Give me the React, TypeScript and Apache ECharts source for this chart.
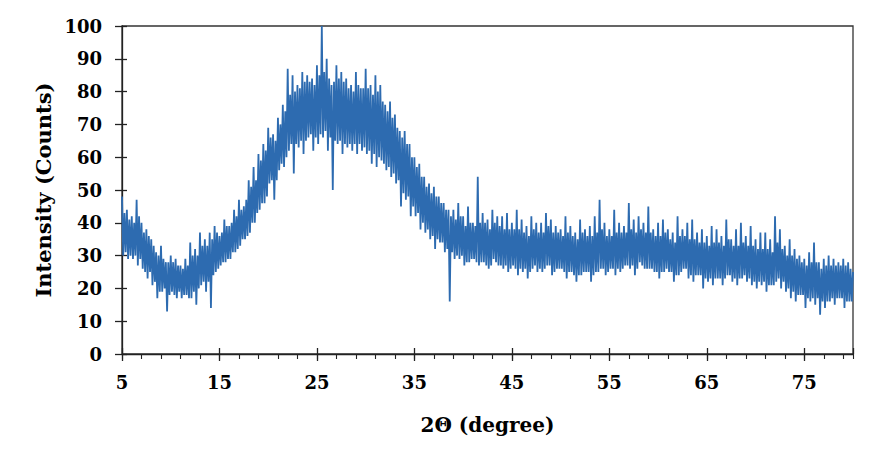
import React, { useEffect, useRef } from "react";
import * as echarts from "echarts";

const startAngle = 5;
const stepAngle = 0.125;
const intensity: number[] = [
  48, 30, 43, 31, 44, 29, 41, 30,
  42, 29, 40, 30, 47, 27, 42, 29,
  40, 26, 37, 25, 38, 23, 36, 25,
  35, 21, 33, 22, 31, 17, 30, 19,
  33, 19, 29, 20, 28, 13, 28, 18,
  30, 19, 28, 18, 29, 17, 27, 19,
  27, 17, 26, 18, 29, 18, 27, 17,
  34, 17, 30, 19, 32, 15, 30, 20,
  37, 21, 33, 22, 35, 19, 33, 22,
  37, 14, 35, 24, 39, 25, 37, 26,
  36, 27, 37, 28, 41, 28, 39, 29,
  39, 29, 40, 31, 44, 31, 42, 32,
  47, 33, 44, 35, 45, 35, 47, 36,
  53, 37, 51, 40, 57, 40, 53, 43,
  61, 44, 59, 46, 64, 46, 62, 48,
  69, 52, 66, 53, 67, 47, 65, 53,
  72, 56, 70, 58, 76, 57, 74, 60,
  87, 62, 79, 64, 85, 55, 80, 64,
  82, 63, 81, 65, 86, 61, 83, 65,
  85, 66, 83, 67, 84, 62, 82, 66,
  88, 64, 85, 67, 100, 66, 86, 68,
  90, 62, 84, 66, 82, 50, 83, 65,
  88, 64, 84, 65, 86, 61, 83, 64,
  84, 63, 81, 64, 82, 62, 80, 64,
  86, 61, 82, 64, 81, 62, 81, 63,
  87, 61, 81, 62, 82, 58, 79, 61,
  85, 57, 80, 60, 82, 59, 77, 58,
  76, 56, 74, 57, 77, 54, 72, 55,
  73, 52, 69, 53, 68, 45, 66, 49,
  68, 47, 64, 48, 64, 42, 60, 45,
  60, 42, 57, 43, 58, 38, 54, 40,
  54, 37, 51, 38, 52, 35, 49, 36,
  51, 32, 48, 35, 48, 34, 46, 34,
  46, 31, 44, 32, 44, 16, 42, 31,
  44, 29, 41, 30, 46, 29, 42, 30,
  42, 27, 39, 28, 45, 28, 40, 29,
  40, 29, 39, 28, 54, 27, 40, 28,
  43, 28, 40, 27, 41, 26, 38, 27,
  44, 29, 40, 28, 42, 27, 39, 27,
  42, 26, 38, 27, 43, 25, 38, 26,
  40, 27, 38, 26, 44, 24, 38, 26,
  41, 25, 37, 26, 39, 23, 36, 25,
  42, 26, 38, 27, 40, 25, 37, 26,
  40, 25, 37, 26, 43, 27, 39, 27,
  41, 24, 37, 25, 39, 26, 37, 26,
  38, 26, 36, 25, 42, 23, 37, 25,
  39, 25, 36, 24, 37, 22, 35, 24,
  41, 24, 37, 25, 38, 25, 36, 25,
  39, 22, 36, 24, 42, 25, 37, 25,
  47, 26, 38, 26, 40, 24, 36, 25,
  38, 26, 36, 26, 44, 24, 37, 26,
  40, 25, 37, 26, 39, 27, 37, 27,
  46, 26, 38, 27, 41, 24, 37, 26,
  42, 28, 38, 27, 40, 26, 37, 26,
  45, 26, 37, 26, 38, 25, 36, 25,
  40, 23, 36, 25, 41, 25, 37, 26,
  38, 25, 35, 25, 37, 22, 34, 24,
  42, 24, 36, 25, 38, 26, 36, 26,
  40, 23, 35, 24, 41, 22, 35, 24,
  37, 24, 34, 24, 38, 20, 34, 23,
  36, 22, 33, 23, 39, 21, 34, 23,
  38, 23, 34, 23, 36, 21, 33, 23,
  41, 24, 35, 24, 35, 22, 33, 23,
  38, 21, 33, 23, 40, 23, 34, 24,
  36, 22, 33, 23, 39, 21, 33, 22,
  35, 20, 32, 22, 37, 21, 32, 22,
  37, 19, 32, 21, 35, 21, 31, 21,
  42, 22, 34, 23, 38, 20, 32, 22,
  33, 19, 30, 20, 35, 17, 30, 19,
  32, 16, 29, 18, 30, 18, 28, 18,
  29, 14, 27, 17, 31, 16, 28, 17,
  34, 15, 28, 17, 28, 12, 26, 16,
  29, 14, 27, 16, 30, 16, 27, 17,
  29, 15, 27, 17, 28, 17, 27, 17,
  29, 14, 27, 16, 28, 16, 26, 16,
  25,
];

const xTickLabels = ["5", "15", "25", "35", "45", "55", "65", "75"];
const yTickLabels = ["0", "10", "20", "30", "40", "50", "60", "70", "80", "90", "100"];

const FONT = "'DejaVu Serif', 'Liberation Serif', serif";

export default function App() {
  const ref = useRef<HTMLDivElement>(null);
  useEffect(() => {
    if (!ref.current) return;
    const chart = echarts.init(ref.current, undefined, { renderer: "svg" });
    const data = intensity.map((v, i) => [startAngle + i * stepAngle, v]);
    const axisLine = { show: true, lineStyle: { color: "#222", width: 1.3 } };
    const xCommon = { type: "value", min: 5, max: 80, position: "bottom", splitLine: { show: false } };
    const yCommon = { type: "value", min: 0, max: 100, interval: 10, position: "left", splitLine: { show: false } };
    chart.setOption({
      animation: false,
      backgroundColor: "#ffffff",
      grid: {
        left: 122,
        right: 22,
        top: 26,
        bottom: 108,
        show: true,
        borderColor: "#333",
        borderWidth: 1.3,
        backgroundColor: "transparent",
      },
      xAxis: [
        {
          ...xCommon,
          interval: 10,
          name: "2Θ (degree)",
          nameLocation: "middle",
          nameGap: 61,
          nameTextStyle: { fontFamily: FONT, fontWeight: "bold", fontSize: 20, color: "#000" },
          axisLine,
          axisTick: { show: true, inside: false, length: 7, lineStyle: { color: "#222", width: 1.3 } },
          axisLabel: {
            show: true,
            margin: 19,
            fontFamily: FONT,
            fontWeight: "bold",
            fontSize: 18,
            color: "#000",
            showMaxLabel: false,
            formatter: (v: number) => (xTickLabels.includes(String(v)) ? String(v) : ""),
          },
        },
        {
          ...xCommon,
          interval: 10,
          axisLine: { show: false },
          axisTick: { show: true, inside: true, length: 6, lineStyle: { color: "#222", width: 1.3 } },
          axisLabel: { show: false },
        },
        {
          ...xCommon,
          interval: 2,
          axisLine: { show: false },
          axisTick: { show: true, inside: false, length: 5, lineStyle: { color: "#222", width: 1.1 } },
          axisLabel: { show: false },
        },
      ],
      yAxis: [
        {
          ...yCommon,
          name: "Intensity (Counts)",
          nameLocation: "middle",
          nameGap: 63,
          nameTextStyle: { fontFamily: FONT, fontWeight: "bold", fontSize: 21, color: "#000" },
          axisLine,
          axisTick: { show: true, inside: false, length: 7, lineStyle: { color: "#222", width: 1.3 } },
          axisLabel: {
            show: true,
            margin: 20,
            fontFamily: FONT,
            fontWeight: "bold",
            fontSize: 18,
            color: "#000",
            formatter: (v: number) => (yTickLabels.includes(String(v)) ? String(v) : ""),
          },
        },
        {
          ...yCommon,
          axisLine: { show: false },
          axisTick: { show: true, inside: true, length: 5, lineStyle: { color: "#222", width: 1.3 } },
          axisLabel: { show: false },
        },
      ],
      series: [
        {
          type: "line",
          xAxisIndex: 0,
          yAxisIndex: 0,
          data,
          showSymbol: false,
          symbol: "none",
          lineStyle: { color: "#2d6bb0", width: 1.8 },
          z: 1,
        },
      ],
    });
    return () => chart.dispose();
  }, []);
  return (
    <div
      ref={ref}
      style={{ position: "fixed", left: 0, top: 0, width: 875, height: 462, background: "#fff" }}
    />
  );
}
